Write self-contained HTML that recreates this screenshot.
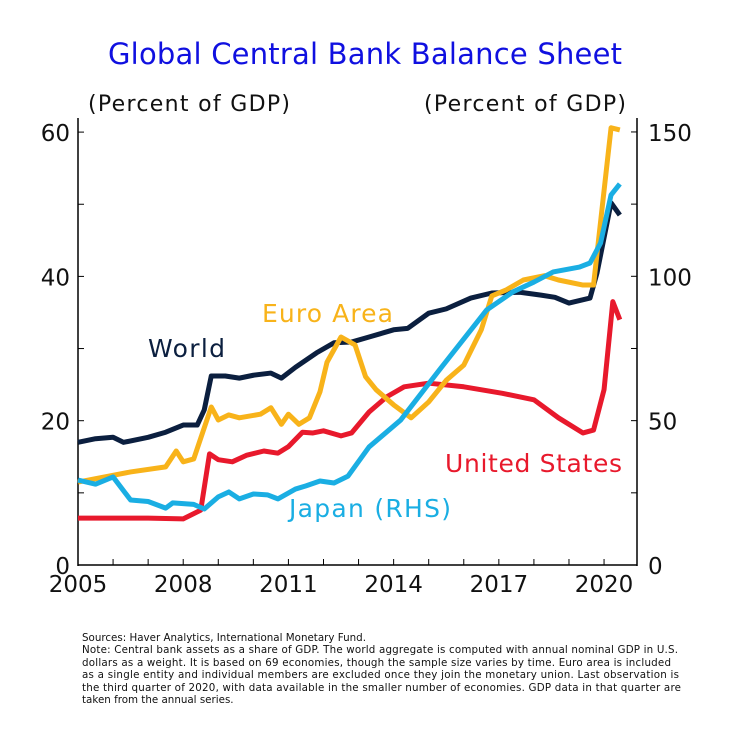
<!DOCTYPE html>
<html><head><meta charset="utf-8"><style>
body{margin:0;background:#fff;width:731px;height:731px;overflow:hidden;font-family:"DejaVu Sans","Liberation Sans",sans-serif}
svg{position:absolute;left:0;top:0}
</style></head><body>
<svg id="c" width="731" height="731">
<text x="365" y="64" text-anchor="middle" font-size="29" fill="#1010e0" textLength="514">Global Central Bank Balance Sheet</text>
<text x="88" y="111" font-size="22" fill="#111" textLength="202">(Percent of GDP)</text>
<text x="424" y="111" font-size="22" fill="#111" textLength="202">(Percent of GDP)</text>
<g id="axes"></g><g id="lines"></g>
<text x="148" y="357" font-size="25" fill="#0b1f3f" textLength="77">World</text>
<text x="262" y="322" font-size="25" fill="#f8b31a" textLength="131">Euro Area</text>
<text x="445" y="472" font-size="25" fill="#e8192c" textLength="177">United States</text>
<text x="289" y="517" font-size="25" fill="#1aaee3" textLength="162">Japan (RHS)</text>
<g font-size="10.3" fill="#111">
<text x="82" y="641">Sources: Haver Analytics, International Monetary Fund.</text>
<text x="82" y="653" textLength="596">Note: Central bank assets as a share of GDP. The world aggregate is computed with annual nominal GDP in U.S.</text>
<text x="82" y="666" textLength="589">dollars as a weight. It is based on 69 economies, though the sample size varies by time. Euro area is included</text>
<text x="82" y="678" textLength="597">as a single entity and individual members are excluded once they join the monetary union. Last observation is</text>
<text x="82" y="691" textLength="599">the third quarter of 2020, with data available in the smaller number of economies. GDP data in that quarter are</text>
<text x="82" y="703">taken from the annual series.</text>
</g>
</svg>
<script>
const worldT=[2005,2005.5,2006,2006.3,2007,2007.5,2008,2008.4,2008.6,2008.8,2009.2,2009.6,2010,2010.5,2010.8,2011.2,2011.8,2012.3,2012.8,2013.3,2014,2014.4,2015,2015.5,2016.2,2016.8,2017.6,2018.2,2018.6,2019,2019.6,2019.8,2020.2,2020.45];
const worldV=[17,17.5,17.7,17,17.7,18.4,19.4,19.4,21.5,26.2,26.2,25.9,26.3,26.6,25.9,27.4,29.4,30.8,30.9,31.6,32.6,32.8,34.9,35.5,37,37.7,37.8,37.4,37.1,36.3,37,40.5,50.2,48.5];
const euroT=[2005,2006.5,2007.5,2007.8,2008,2008.3,2008.8,2009,2009.3,2009.6,2010.2,2010.5,2010.8,2011,2011.3,2011.6,2011.9,2012.1,2012.5,2012.9,2013.2,2013.5,2014,2014.5,2015,2015.5,2016,2016.5,2016.8,2017.2,2017.7,2018.3,2018.7,2019.4,2019.7,2020.2,2020.45];
const euroV=[11.5,12.9,13.6,15.8,14.3,14.7,21.9,20.1,20.8,20.4,20.9,21.8,19.5,20.9,19.5,20.4,24,28.1,31.6,30.5,26.1,24.3,22.2,20.4,22.6,25.6,27.7,32.6,37.3,38.1,39.5,40.1,39.5,38.8,38.8,60.6,60.3];
const usT=[2005,2006,2007,2008,2008.5,2008.75,2009,2009.4,2009.8,2010.3,2010.7,2011,2011.4,2011.7,2012,2012.5,2012.8,2013.3,2013.8,2014.3,2015,2016,2017.1,2018,2018.7,2019.4,2019.7,2020,2020.25,2020.45];
const usV=[6.5,6.5,6.5,6.4,7.6,15.4,14.6,14.3,15.2,15.8,15.5,16.4,18.4,18.3,18.6,17.9,18.3,21.2,23.3,24.7,25.2,24.7,23.8,22.9,20.4,18.3,18.7,24.3,36.5,34];
const jpT=[2005,2005.5,2006,2006.5,2007,2007.5,2007.7,2008.3,2008.6,2009,2009.3,2009.6,2010,2010.4,2010.7,2011.2,2011.5,2011.9,2012.3,2012.7,2013.3,2014.2,2015.3,2016.65,2017.4,2018,2018.55,2019.3,2019.6,2019.9,2020.2,2020.45];
const jpV=[29.4,28,30.5,22.5,22,19.7,21.5,21,19.4,23.6,25.3,22.9,24.6,24.3,22.9,26.3,27.4,29.1,28.4,30.8,40.9,50.2,67.5,88.3,94.6,98,101.5,103.2,104.6,111.5,128.2,132];
const x=t=>78+(t-2005)*35.07;
const yL=v=>565-v*7.215;
const yR=v=>565-v*2.887;
const NS="http://www.w3.org/2000/svg";
const ax=document.getElementById('axes'),ln=document.getElementById('lines');
function mk(tag,at,parent){const e=document.createElementNS(NS,tag);for(const k in at)e.setAttribute(k,at[k]);parent.appendChild(e);return e;}
let e=mk('line',{x1:78,y1:118,x2:78,y2:566,stroke:'#000','stroke-width':1.5},ax);

e=mk('line',{x1:637,y1:118,x2:637,y2:566,stroke:'#000','stroke-width':1.5},ax);

e=mk('line',{x1:78,y1:565,x2:637,y2:565,stroke:'#000','stroke-width':1.5},ax);

const leftTicks=[0,10,20,30,40,50,60],leftLabels=[0,20,40,60];
leftTicks.forEach(v=>{mk('line',{x1:78,y1:yL(v),x2:84,y2:yL(v),stroke:'#000'},ax);});
leftLabels.forEach(v=>{const t=mk('text',{x:70,y:yL(v)+9,'text-anchor':'end','font-size':23,fill:'#111'},ax);t.textContent=v;
});
const rightTicks=[0,25,50,75,100,125,150],rightLabels=[0,50,100,150];
rightTicks.forEach(v=>{mk('line',{x1:631,y1:yR(v),x2:637,y2:yR(v),stroke:'#000'},ax);});
rightLabels.forEach(v=>{const t=mk('text',{x:648,y:yR(v)+9,'font-size':23,fill:'#111'},ax);t.textContent=v;
});
for(let yr=2005;yr<=2020;yr++)mk('line',{x1:x(yr),y1:559,x2:x(yr),y2:565,stroke:'#000'},ax);
const xLabels=[2005,2008,2011,2014,2017,2020];
xLabels.forEach(v=>{const t=mk('text',{x:x(v),y:592,'text-anchor':'middle','font-size':23,fill:'#111'},ax);t.textContent=v;
});
function line(T,V,fy,col,name){const p=mk('polyline',{points:T.map((t,i)=>x(t)+','+fy(V[i])).join(' '),fill:'none',stroke:col,'stroke-width':5,'stroke-linejoin':'round'},ln);
}
line(usT,usV,yL,'#e8192c','united-states-line');
line(worldT,worldV,yL,'#0b1f3f','world-line');
line(euroT,euroV,yL,'#f8b31a','euro-area-line');
line(jpT,jpV,yR,'#1aaee3','japan-line');
</script>
</body></html>
